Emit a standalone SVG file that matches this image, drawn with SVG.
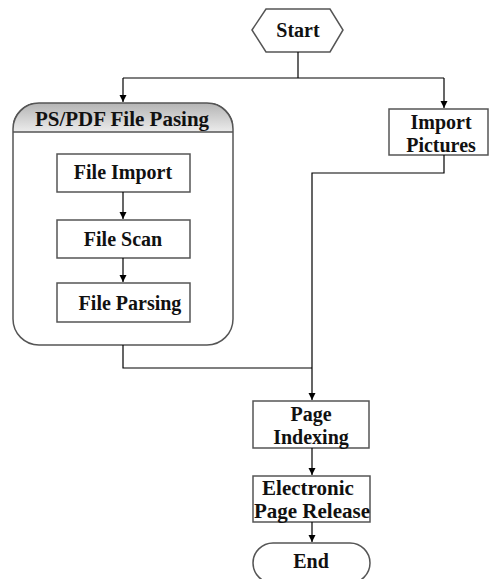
<svg xmlns="http://www.w3.org/2000/svg" width="489" height="579" viewBox="0 0 489 579">
<defs>
<marker id="ah" markerWidth="8" markerHeight="8" refX="7" refY="4" orient="auto" markerUnits="userSpaceOnUse">
<path d="M0,0.5 L7,4 L0,7.5 Z" fill="#000"/>
</marker>
<linearGradient id="hg" x1="0" y1="0" x2="0" y2="1">
<stop offset="0" stop-color="#b4b4b4"/>
<stop offset="0.5" stop-color="#eeeeee"/>
<stop offset="1" stop-color="#ffffff"/>
</linearGradient>
<clipPath id="hc"><rect x="13" y="103" width="220" height="29"/></clipPath>
</defs>
<style>
.box{fill:#fff;stroke:#555;stroke-width:1.5}
.t{font-family:"Liberation Serif","Times New Roman",serif;font-weight:bold;font-size:20px;fill:#111;text-anchor:middle}
.c{fill:none;stroke:#000;stroke-width:1.2}
</style>
<rect width="489" height="579" fill="#fff"/>
<g id="start">
<polygon class="box" points="252,30 266,9 330,9 343,30 330,52 266,52"/>
<text class="t" x="298" y="37">Start</text>
</g>
<g id="ps-pdf-file-pasing">
<rect class="box" x="13" y="103" width="220" height="242" rx="26" ry="26"/>
<rect x="13" y="103" width="220" height="60" rx="26" ry="26" fill="url(#hg)" stroke="#555" stroke-width="1.5" clip-path="url(#hc)"/>
<line x1="13" y1="132" x2="233" y2="132" stroke="#555" stroke-width="1.5"/>
<text class="t" x="122" y="126" style="font-size:21px">PS/PDF File Pasing</text>
</g>
<g id="file-import">
<rect class="box" x="57" y="154" width="133" height="38"/>
<text class="t" x="123" y="179">File Import</text>
</g>
<g id="file-scan">
<rect class="box" x="57" y="220" width="133" height="38"/>
<text class="t" x="123" y="246">File Scan</text>
</g>
<g id="file-parsing">
<rect class="box" x="57" y="283" width="133" height="39"/>
<text class="t" x="130" y="310">File Parsing</text>
</g>
<g id="import-pictures">
<rect class="box" x="389" y="109" width="99" height="46"/>
<text class="t" x="441" y="129">Import</text>
<text class="t" x="441" y="152">Pictures</text>
</g>
<g id="page-indexing">
<rect class="box" x="253" y="401" width="116" height="47"/>
<text class="t" x="311" y="421">Page</text>
<text class="t" x="311" y="444">Indexing</text>
</g>
<g id="electronic-page-release">
<rect class="box" x="253" y="476" width="117" height="46"/>
<text class="t" x="308" y="495" style="font-size:21px">Electronic</text>
<text class="t" x="312" y="518" style="font-size:21px">Page Release</text>
</g>
<g id="end">
<rect class="box" x="253" y="543" width="117" height="40" rx="20" ry="20"/>
<text class="t" x="311" y="568">End</text>
</g>
<g id="connectors">
<path class="c" d="M298,52 V78"/>
<path class="c" d="M123,78 H444"/>
<path class="c" d="M123,78 V102" marker-end="url(#ah)"/>
<path class="c" d="M444,78 V108" marker-end="url(#ah)"/>
<path class="c" d="M123,192 V219" marker-end="url(#ah)"/>
<path class="c" d="M123,258 V282" marker-end="url(#ah)"/>
<path class="c" d="M123,345 V368 H312"/>
<path class="c" d="M444,155 V173 H312 V400" marker-end="url(#ah)"/>
<path class="c" d="M312,448 V475" marker-end="url(#ah)"/>
<path class="c" d="M312,522 V542" marker-end="url(#ah)"/>
</g>
</svg>
